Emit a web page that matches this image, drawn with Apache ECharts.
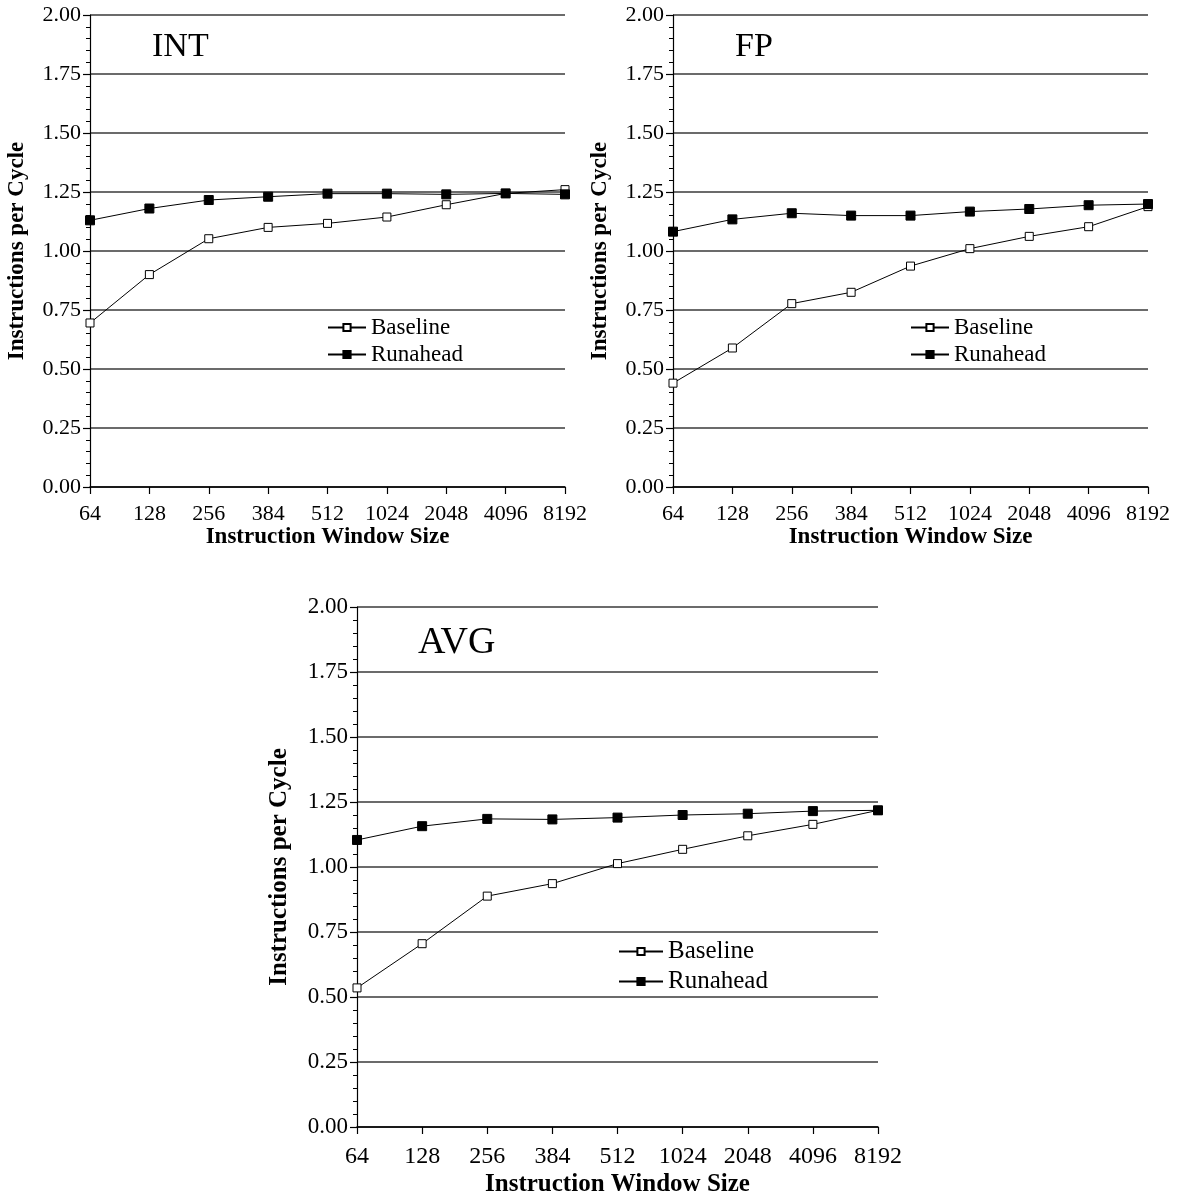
<!DOCTYPE html>
<html>
<head>
<meta charset="utf-8">
<script src="https://cdn.jsdelivr.net/npm/echarts@6/dist/echarts.min.js"></script>
<style>
  html, body { margin: 0; padding: 0; background: #fff; }
  #chart { width: 1178px; height: 1200px; }
</style>
</head>
<body>
<div id="chart"></div>
<script>
const windowSizes = ['64', '128', '256', '384', '512', '1024', '2048', '4096', '8192'];

const intBaseline = [0.695, 0.90, 1.052, 1.10, 1.117, 1.144, 1.196, 1.244, 1.26];
const intRunahead = [1.13, 1.18, 1.216, 1.23, 1.243, 1.243, 1.24, 1.244, 1.24];

const fpBaseline = [0.44, 0.589, 0.777, 0.825, 0.936, 1.01, 1.062, 1.103, 1.188];
const fpRunahead = [1.082, 1.134, 1.16, 1.15, 1.15, 1.167, 1.178, 1.194, 1.199];

const avgBaseline = [0.535, 0.705, 0.888, 0.936, 1.013, 1.068, 1.12, 1.164, 1.218];
const avgRunahead = [1.104, 1.157, 1.185, 1.183, 1.19, 1.2, 1.205, 1.215, 1.218];

const panelTitles = ['INT', 'FP', 'AVG'];

const serif = '"Liberation Serif", "Times New Roman", serif';

// per-panel layout: grid box, font sizes, gaps
const panels = [
  { grid: { left: 90, top: 15, width: 475, height: 472 }, xLabel: 22, yLabel: 22, name: 23, yGap: 61, xGap: 38, xMargin: 16,
    title: { left: 152, top: 30, size: 34 }, legend: { left: 327, top: 316, size: 23, gap: 4, w: 38 } },
  { grid: { left: 673, top: 15, width: 475, height: 472 }, xLabel: 22, yLabel: 22, name: 23, yGap: 61, xGap: 38, xMargin: 16,
    title: { left: 735, top: 30, size: 34 }, legend: { left: 910, top: 316, size: 23, gap: 4, w: 38 } },
  { grid: { left: 357, top: 607, width: 521, height: 520 }, xLabel: 24, yLabel: 23, name: 25, yGap: 65, xGap: 45, xMargin: 18,
    title: { left: 418, top: 624, size: 38 }, legend: { left: 618, top: 939, size: 25, gap: 5, w: 44 } }
];

const seriesData = [
  [intBaseline, intRunahead],
  [fpBaseline, fpRunahead],
  [avgBaseline, avgRunahead]
];

let chart = echarts.init(document.getElementById('chart'));
let option = {
  animation: false,
  backgroundColor: '#fff',
  title: [],
  legend: [],
  grid: [],
  xAxis: [],
  yAxis: [],
  series: []
};

panels.forEach((p, i) => {
  option.grid.push(p.grid);

  option.title.push({
    text: panelTitles[i],
    left: p.title.left,
    top: p.title.top,
    padding: 0,
    textStyle: { fontFamily: serif, fontSize: p.title.size, fontWeight: 'normal', color: '#000' }
  });

  option.legend.push({
    data: ['Baseline', 'Runahead'],
    orient: 'vertical',
    left: p.legend.left,
    top: p.legend.top,
    padding: 0,
    itemGap: p.legend.gap,
    itemWidth: p.legend.w,
    itemHeight: 9,
    selectedMode: false,
    textStyle: { fontFamily: serif, fontSize: p.legend.size, color: '#000' }
  });

  option.xAxis.push({
    type: 'category',
    gridIndex: i,
    data: windowSizes,
    boundaryGap: false,
    name: 'Instruction Window Size',
    nameLocation: 'middle',
    nameGap: p.xGap,
    nameTextStyle: { fontFamily: serif, fontSize: p.name, fontWeight: 'bold', color: '#000' },
    axisLine: { lineStyle: { color: '#000', width: 1.5 } },
    axisTick: { show: true, length: 7, lineStyle: { color: '#000', width: 1.2 } },
    axisLabel: { fontFamily: serif, fontSize: p.xLabel, color: '#000', margin: p.xMargin },
    splitLine: { show: false }
  });

  option.yAxis.push({
    type: 'value',
    gridIndex: i,
    min: 0,
    max: 2,
    interval: 0.25,
    name: 'Instructions per Cycle',
    nameLocation: 'middle',
    nameGap: p.yGap,
    nameTextStyle: { fontFamily: serif, fontSize: p.name, fontWeight: 'bold', color: '#000' },
    axisLine: { show: true, lineStyle: { color: '#000', width: 1.2 } },
    axisTick: { show: true, length: 7, lineStyle: { color: '#000', width: 1.2 } },
    minorTick: { show: true, splitNumber: 5, length: 4, lineStyle: { color: '#000', width: 1 } },
    axisLabel: {
      fontFamily: serif, fontSize: p.yLabel, color: '#000', margin: 9,
      formatter: v => v.toFixed(2)
    },
    splitLine: { show: true, lineStyle: { color: '#3a3a3a', width: 1.5 } }
  });

  option.series.push({
    name: 'Baseline',
    type: 'line',
    xAxisIndex: i,
    yAxisIndex: i,
    data: seriesData[i][0],
    symbol: 'rect',
    symbolSize: 8,
    lineStyle: { color: '#000', width: 1 },
    itemStyle: { color: '#fff', borderColor: '#000', borderWidth: 1 },
    z: 3
  });

  option.series.push({
    name: 'Runahead',
    type: 'line',
    xAxisIndex: i,
    yAxisIndex: i,
    data: seriesData[i][1],
    symbol: 'rect',
    symbolSize: 9,
    lineStyle: { color: '#000', width: 1 },
    itemStyle: { color: '#000', borderColor: '#000', borderWidth: 1 },
    z: 4
  });
});

option && chart.setOption(option);
</script>
</body>
</html>
